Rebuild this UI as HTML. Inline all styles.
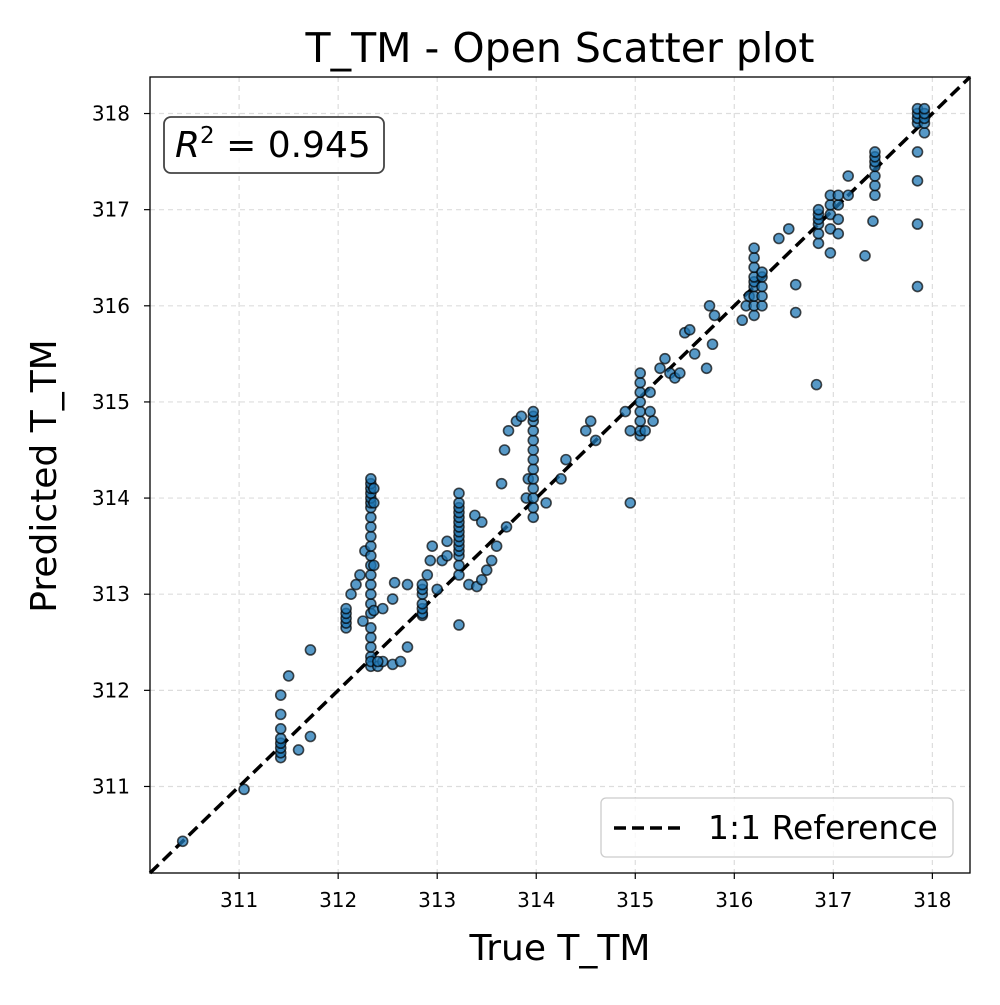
<!DOCTYPE html>
<html><head><meta charset="utf-8"><style>
body{margin:0;background:#fff;width:1000px;height:1000px;overflow:hidden}
svg text{font-family:"DejaVu Sans","Liberation Sans",sans-serif}
</style></head><body>
<svg id="chart" width="1000" height="1000" xmlns="http://www.w3.org/2000/svg">
<text x="560" y="62" font-size="41" text-anchor="middle">T_TM - Open Scatter plot</text>
<g id="grid"></g>
<g id="ticks"></g>
<line id="refline" stroke="#000" stroke-width="3.5" stroke-dasharray="12,6"/>
<g id="points"></g>
<rect x="150" y="77" width="820" height="796" fill="none" stroke="#000" stroke-width="1.3"/>
<g>
<rect x="164" y="117" width="220" height="56" rx="7" fill="#fff" fill-opacity="0.8" stroke="#444" stroke-width="1.8"/>
<text x="175" y="157" font-size="36"><tspan font-style="italic">R</tspan><tspan font-size="23" dy="-14">2</tspan><tspan dy="14"> = 0.945</tspan></text>
</g>
<g>
<rect x="601" y="798" width="352" height="59" rx="5" fill="#fff" fill-opacity="0.8" stroke="#ccc" stroke-width="1.3"/>
<line x1="614" y1="828" x2="684" y2="828" stroke="#000" stroke-width="3.5" stroke-dasharray="12,6"/>
<text x="708" y="839" font-size="33">1:1 Reference</text>
</g>
<text x="560" y="960" font-size="36" text-anchor="middle">True T_TM</text>
<text transform="translate(56,476) rotate(-90)" font-size="36" text-anchor="middle">Predicted T_TM</text>
</svg>
<script>
const tickValues=[311,312,313,314,315,316,317,318];
const trueVals=[310.43,311.05,311.42,311.42,311.42,311.42,311.42,311.42,311.42,311.42,311.5,311.6,311.72,311.72,
312.08,312.08,312.08,312.08,312.08,312.13,312.18,312.22,312.27,312.25,
312.33,312.33,312.33,312.33,312.33,312.33,312.33,312.33,312.33,312.33,312.33,312.33,312.33,312.33,312.33,312.33,312.33,312.33,312.33,312.33,312.33,312.33,312.33,312.33,312.36,312.36,312.36,312.36,
312.4,312.45,312.55,312.63,312.7,312.45,312.55,312.57,312.7,312.4,
312.85,312.85,312.85,312.85,312.85,312.85,312.85,312.9,312.93,312.95,313.0,313.05,313.1,313.1,
313.22,313.22,313.22,313.22,313.22,313.22,313.22,313.22,313.22,313.22,313.22,313.22,313.22,313.22,313.22,313.22,
313.32,313.4,313.38,313.45,313.45,313.5,313.55,313.6,313.7,313.65,313.68,313.72,313.8,313.85,313.9,313.92,
313.97,313.97,313.97,313.97,313.97,313.97,313.97,313.97,313.97,313.97,313.97,313.97,313.97,
314.1,314.25,314.3,314.5,314.55,314.6,314.95,314.9,314.95,
315.05,315.05,315.05,315.05,315.05,315.05,315.05,315.05,315.1,315.15,315.18,315.15,315.25,315.3,315.35,315.4,315.45,315.5,315.55,315.6,315.72,315.75,315.78,315.8,
316.08,316.12,316.15,316.2,316.2,316.2,316.2,316.2,316.2,316.2,316.2,316.2,316.28,316.28,316.28,316.28,316.28,316.45,316.55,316.62,316.62,316.83,
316.85,316.85,316.85,316.85,316.85,316.85,316.97,316.97,316.97,316.97,316.97,317.05,317.05,317.05,317.05,317.15,317.15,317.32,317.4,
317.42,317.42,317.42,317.42,317.42,317.42,317.42,
317.85,317.85,317.85,317.85,317.85,317.85,317.85,317.85,317.92,317.92,317.92,317.92,317.92];
const predVals=[310.43,310.97,311.3,311.35,311.4,311.45,311.5,311.6,311.75,311.95,312.15,311.38,311.52,312.42,
312.65,312.7,312.75,312.8,312.85,313.0,313.1,313.2,313.45,312.72,
312.25,312.35,312.45,312.55,312.65,312.8,312.9,313.0,313.1,313.2,313.3,313.4,313.5,313.6,313.7,313.8,313.9,313.95,314.0,314.05,314.1,314.15,314.2,312.3,313.3,313.95,314.1,312.83,
312.25,312.3,312.27,312.3,312.45,312.85,312.95,313.12,313.1,312.3,
312.78,312.8,312.85,312.9,313.0,313.05,313.1,313.2,313.35,313.5,313.05,313.35,313.55,313.4,
313.2,313.3,313.4,313.45,313.5,313.55,313.6,313.65,313.7,313.75,313.8,313.85,313.9,313.95,314.05,312.68,
313.1,313.08,313.82,313.75,313.15,313.25,313.35,313.5,313.7,314.15,314.5,314.7,314.8,314.85,314.0,314.2,
313.8,313.9,314.0,314.1,314.2,314.3,314.4,314.5,314.6,314.7,314.8,314.85,314.9,
313.95,314.2,314.4,314.7,314.8,314.6,313.95,314.9,314.7,
314.65,314.7,314.8,314.9,315.0,315.1,315.2,315.3,314.7,314.9,314.8,315.1,315.35,315.45,315.3,315.25,315.3,315.72,315.75,315.5,315.35,316.0,315.6,315.9,
315.85,316.0,316.1,315.9,316.0,316.1,316.2,316.25,316.3,316.4,316.5,316.6,316.0,316.1,316.2,316.3,316.35,316.7,316.8,316.22,315.93,315.18,
316.65,316.75,316.85,316.9,316.95,317.0,316.55,316.8,316.95,317.05,317.15,316.75,316.9,317.05,317.15,317.15,317.35,316.52,316.88,
317.15,317.25,317.35,317.45,317.5,317.55,317.6,
317.9,317.95,318.0,318.05,317.6,317.3,316.85,316.2,317.8,317.9,317.95,318.0,318.05];
const LO=310.1,HI=318.38;
const X=v=>150+(v-LO)/(HI-LO)*820;
const Y=v=>873-(v-LO)/(HI-LO)*796;
const NS="http://www.w3.org/2000/svg";
function mk(tag,attrs,parent){const e=document.createElementNS(NS,tag);for(const k in attrs)e.setAttribute(k,attrs[k]);parent.appendChild(e);return e;}
const grid=document.getElementById('grid'),ticks=document.getElementById('ticks');
tickValues.forEach(t=>{
 const gx=mk('line',{x1:X(t),x2:X(t),y1:77,y2:873,stroke:'#ddd','stroke-width':1.2,'stroke-dasharray':'5,4'},grid);
 
 
 const gy=mk('line',{x1:150,x2:970,y1:Y(t),y2:Y(t),stroke:'#ddd','stroke-width':1.2,'stroke-dasharray':'5,4'},grid);
 
 
 mk('line',{x1:X(t),x2:X(t),y1:873,y2:879,stroke:'#000','stroke-width':1.2},ticks);
 mk('line',{x1:144,x2:150,y1:Y(t),y2:Y(t),stroke:'#000','stroke-width':1.2},ticks);
 const tx=mk('text',{x:X(t),y:907,'font-size':20,'text-anchor':'middle'},ticks);tx.textContent=t;
 
 
 const ty=mk('text',{x:130,y:Y(t)+7,'font-size':20,'text-anchor':'end'},ticks);ty.textContent=t;
 
 
});
const rl=document.getElementById('refline');
rl.setAttribute('x1',X(LO));rl.setAttribute('y1',Y(LO));rl.setAttribute('x2',X(HI));rl.setAttribute('y2',Y(HI));
const pts=document.getElementById('points');
const n=Math.min(trueVals.length,predVals.length);
for(let i=0;i<n;i++){
 const c=mk('circle',{cx:X(trueVals[i]),cy:Y(predVals[i]),r:5,fill:'#1f77b4','fill-opacity':0.75,stroke:'#000','stroke-opacity':0.7,'stroke-width':1.6},pts);
 
 
}
</script>
</body></html>
